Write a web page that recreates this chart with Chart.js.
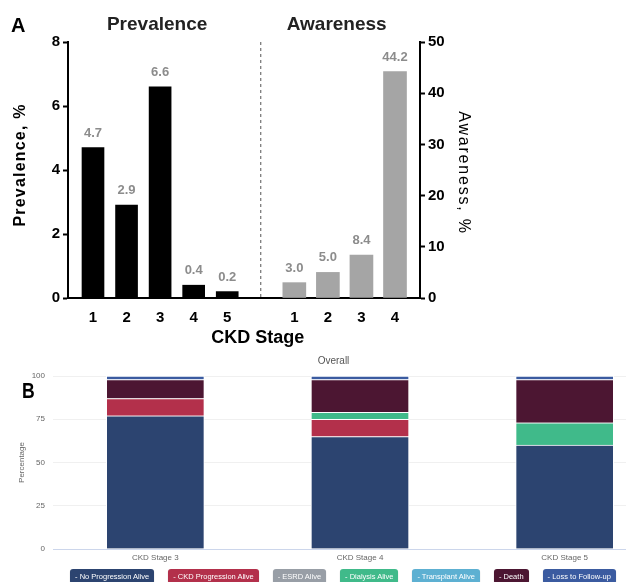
<!DOCTYPE html>
<html>
<head>
<meta charset="utf-8">
<script src="https://cdn.jsdelivr.net/npm/chart.js@4.4.1/dist/chart.umd.min.js"></script>
<style>
  html, body { margin: 0; padding: 0; background: #fff; }
  #wrap { position: relative; width: 626px; height: 582px; overflow: hidden; }
  #boxA { position: absolute; left: 0; top: 0; width: 626px; height: 352px; }
  #boxB { position: absolute; left: 0; top: 345px; width: 684px; height: 237px; }
  .panel { position: absolute; color: #000; }
  #lblA { left: 11px; top: 15px; font: bold 20px 'Liberation Sans', Arial, sans-serif; line-height: 1; }
  #lblB { left: 22px; top: 380px; font: bold 22px 'Liberation Sans', Arial, sans-serif; line-height: 1;
          transform: scaleX(0.8); transform-origin: left top; }
  #legendB { position: absolute; left: 0; top: 569px; width: 686px; display: flex; justify-content: center; gap: 14px; }
  .leg { color: #fff; font: 7.5px 'Liberation Sans', Arial, sans-serif; line-height: 15px; padding: 0 5px; border-radius: 3px;
         box-shadow: 0 1px 1px rgba(0,0,0,.35); white-space: nowrap; }
</style>
</head>
<body>
<div id="wrap">
  <div id="boxA"><canvas id="chartA" width="626" height="352"></canvas></div>
  <div id="boxB"><canvas id="chartB" width="684" height="237"></canvas></div>
  <div class="panel" id="lblA">A</div>
  <div class="panel" id="lblB">B</div>
  <div id="legendB"></div>
</div>
<script>
// panel A
const prevalenceStages = ['1', '2', '3', '4', '5'];
const prevalenceValues = [4.7, 2.9, 6.6, 0.4, 0.2];
const awarenessStages = ['1', '2', '3', '4'];
const awarenessValues = [3.0, 5.0, 8.4, 44.2];

// panel B
const outcomeStages = ['CKD Stage 3', 'CKD Stage 4', 'CKD Stage 5'];
const noProgressionAlive = [77, 65, 60];
const ckdProgressionAlive = [10, 10, 0];
const esrdAlive = [0, 0, 0];
const dialysisAlive = [0, 4, 13];
const transplantAlive = [0, 0, 0];
const death = [11, 19, 25];
const lossToFollowUp = [2, 2, 2];

const SANS = "'Liberation Sans', Arial, sans-serif";

// one slot left empty between the two groups
const stageLabels = [...prevalenceStages, '', ...awarenessStages];
const gapIndex = prevalenceStages.length;
const pad = n => Array(n).fill(null);
const prevData = [...prevalenceValues, ...pad(awarenessStages.length + 1)];
const awareData = [...pad(prevalenceStages.length + 1), ...awarenessValues];

const EDGE = 0.745; // extra space at both ends of the category axis

const valueLabels = {
  id: 'valueLabels',
  afterDatasetsDraw(chart) {
    const ctx = chart.ctx;
    ctx.save();
    ctx.font = 'bold 13px ' + SANS;
    ctx.fillStyle = '#8c8c8c';
    ctx.textAlign = 'center';
    ctx.textBaseline = 'alphabetic';
    chart.data.datasets.forEach((ds, i) => {
      chart.getDatasetMeta(i).data.forEach((bar, j) => {
        const v = ds.data[j];
        if (v == null) return;
        ctx.fillText(v.toFixed(1), bar.x, bar.y - 11);
      });
    });
    ctx.restore();
  }
};

const panelDecor = {
  id: 'panelDecor',
  afterDraw(chart) {
    const {ctx, chartArea} = chart;
    const x = chart.scales.x;
    const midY = (chartArea.top + chartArea.bottom) / 2;
    ctx.save();
    // separator between the two groups
    const gx = x.getPixelForValue(gapIndex);
    ctx.strokeStyle = '#555';
    ctx.lineWidth = 1;
    ctx.setLineDash([3, 3]);
    ctx.beginPath();
    ctx.moveTo(gx, chartArea.top);
    ctx.lineTo(gx, chartArea.bottom);
    ctx.stroke();
    ctx.setLineDash([]);

    // group titles
    ctx.fillStyle = '#222';
    ctx.font = 'bold 19px ' + SANS;
    ctx.textAlign = 'center';
    ctx.textBaseline = 'alphabetic';
    const px = (x.getPixelForValue(0) + x.getPixelForValue(gapIndex - 1)) / 2;
    const ax = (x.getPixelForValue(gapIndex + 1) + x.getPixelForValue(stageLabels.length - 1)) / 2;
    ctx.fillText('Prevalence', px - 3, 29.5);
    ctx.fillText('Awareness', ax - 8, 29.5);

    // x title
    ctx.fillStyle = '#000';
    ctx.font = 'bold 18px ' + SANS;
    ctx.fillText('CKD Stage', gx - 3, 343);

    // y titles, letter spaced
    ctx.font = 'bold 16px ' + SANS;
    ctx.letterSpacing = '1.2px';
    ctx.textBaseline = 'middle';
    ctx.save();
    ctx.translate(21, midY - 5);
    ctx.rotate(-Math.PI / 2);
    ctx.fillText('Prevalence, %', 0, 0);
    ctx.restore();

    ctx.font = '16px ' + SANS;
    ctx.letterSpacing = '1.8px';
    ctx.save();
    ctx.translate(chart.scales.y1.right - 19, midY + 3);
    ctx.rotate(Math.PI / 2);
    ctx.fillText('Awareness, %', 0, 0);
    ctx.restore();
    ctx.restore();
  }
};

const axisTickFont = {family: SANS, size: 15, weight: 'bold'};

new Chart(document.getElementById('chartA'), {
  type: 'bar',
  data: {
    labels: stageLabels,
    datasets: [
      {label: 'Prevalence', data: prevData, backgroundColor: '#000', yAxisID: 'y', grouped: false, barThickness: 22},
      {label: 'Awareness', data: awareData, backgroundColor: '#a5a5a5', yAxisID: 'y1', grouped: false, barThickness: 23}
    ]
  },
  options: {
    responsive: false,
    animation: false,
    layout: {padding: {top: 42, left: 0, right: 144, bottom: 0}},
    plugins: {legend: {display: false}, tooltip: {enabled: false}},
    scales: {
      x: {
        grid: {display: false, drawTicks: false},
        border: {color: '#000', width: 2},
        ticks: {color: '#000', font: axisTickFont, padding: 11, autoSkip: false, maxRotation: 0},
        afterBuildTicks: s => {
          s._startValue = s.min - EDGE;
          s._valueRange = s.max - s.min + 2 * EDGE;
        },
        afterFit: s => { s.height = 54; }
      },
      y: {
        position: 'left',
        min: 0, max: 8,
        ticks: {stepSize: 2, color: '#000', font: axisTickFont, padding: 3},
        grid: {drawOnChartArea: false, tickLength: 5, tickColor: '#000', tickWidth: 2},
        border: {color: '#000', width: 2},
        afterFit: s => { s.width = 68; }
      },
      y1: {
        position: 'right',
        min: 0, max: 50,
        ticks: {stepSize: 10, color: '#000', font: axisTickFont, padding: 3},
        grid: {drawOnChartArea: false, tickLength: 5, tickColor: '#000', tickWidth: 2},
        border: {color: '#000', width: 2},
        afterFit: s => { s.width = 62; }
      }
    }
  },
  plugins: [valueLabels, panelDecor]
});

const outcomeSeries = [
  {name: 'No Progression Alive', values: noProgressionAlive, color: '#2c4470'},
  {name: 'CKD Progression Alive', values: ckdProgressionAlive, color: '#b3304b'},
  {name: 'ESRD Alive', values: esrdAlive, color: '#989ea6'},
  {name: 'Dialysis Alive', values: dialysisAlive, color: '#40ba8a'},
  {name: 'Transplant Alive', values: transplantAlive, color: '#5db0d2'},
  {name: 'Death', values: death, color: '#4c1632'},
  {name: 'Loss to Follow-up', values: lossToFollowUp, color: '#3b5ba0'}
];

const smallFont = {family: SANS, size: 8};

const chartB = new Chart(document.getElementById('chartB'), {
  type: 'bar',
  data: {
    labels: outcomeStages,
    datasets: outcomeSeries.map(s => ({
      label: s.name,
      data: s.values,
      backgroundColor: s.color,
      borderColor: '#ffffff',
      borderWidth: 1,
      barThickness: 98
    }))
  },
  options: {
    responsive: false,
    animation: false,
    layout: {padding: {top: 0, left: 0, right: 17, bottom: 19}},
    plugins: {
      legend: {display: false},
      tooltip: {enabled: false},
      title: {display: true, text: 'Overall', color: '#555', font: {family: SANS, size: 10, weight: 'normal'}, padding: {top: 10, bottom: 9}}
    },
    scales: {
      x: {
        stacked: true,
        grid: {display: false, drawTicks: false},
        border: {color: '#ccd6eb', width: 1},
        ticks: {color: '#666', font: smallFont, padding: 4},
        afterFit: s => { s.height = 14; }
      },
      y: {
        stacked: true,
        min: 0, max: 100,
        ticks: {stepSize: 25, color: '#666', font: smallFont, padding: 8},
        grid: {color: '#f0f0f0', drawTicks: false},
        border: {display: false},
        title: {display: true, text: 'Percentage', color: '#666', font: smallFont, padding: {top: 17, bottom: 0}},
        afterFit: s => { s.width = 53; }
      }
    }
  }
});

// legend as coloured buttons under panel B
const legendEl = document.getElementById('legendB');
chartB.data.datasets.forEach(ds => {
  const item = document.createElement('div');
  item.className = 'leg';
  item.style.background = ds.backgroundColor;
  item.textContent = '- ' + ds.label;
  legendEl.appendChild(item);
});
</script>
</body>
</html>
